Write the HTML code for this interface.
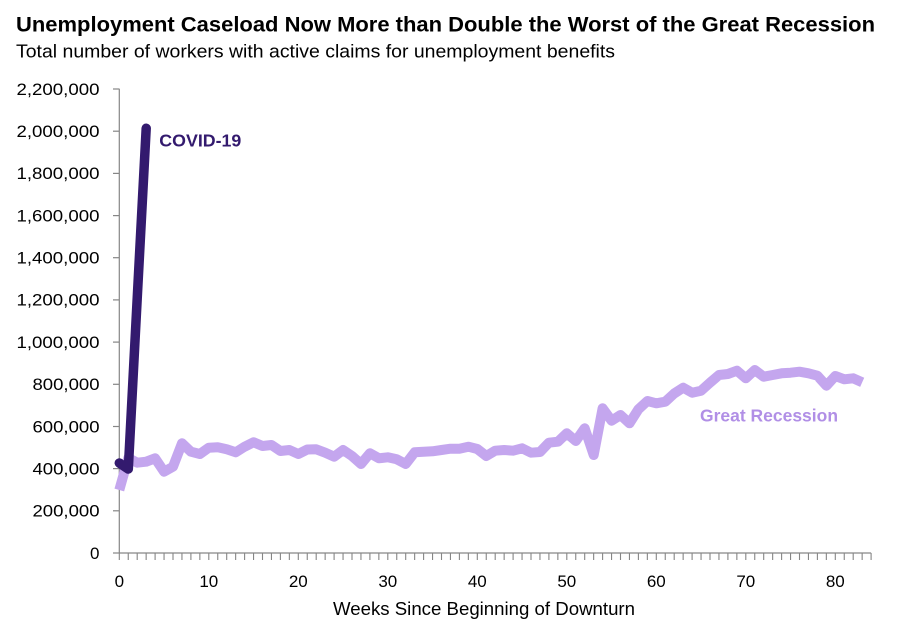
<!DOCTYPE html>
<html>
<head>
<meta charset="utf-8">
<style>
  html, body { margin: 0; padding: 0; background: #ffffff; }
  svg { display: block; }
  text { font-family: "Liberation Sans", "DejaVu Sans", sans-serif; }
</style>
</head>
<body>
<svg width="900" height="630" viewBox="0 0 900 630" xmlns="http://www.w3.org/2000/svg">
  <rect x="0" y="0" width="900" height="630" fill="#ffffff"/>

  <!-- Title & subtitle -->
  <text x="16" y="31.7" font-size="21" font-weight="bold" fill="#000" textLength="859" lengthAdjust="spacingAndGlyphs">Unemployment Caseload Now More than Double the Worst of the Great Recession</text>
  <text x="16" y="57.3" font-size="18" fill="#000" textLength="599" lengthAdjust="spacingAndGlyphs">Total number of workers with active claims for unemployment benefits</text>

  <!-- Axes -->
  <g stroke="#868686" stroke-width="1.2" fill="none">
    <line x1="119.3" y1="88.8" x2="119.3" y2="553"/>
    <line x1="119.3" y1="553" x2="871.1" y2="553"/>
  </g>

  <!-- Y ticks -->
  <g stroke="#868686" stroke-width="1.2">
    <line x1="113" y1="553" x2="119.3" y2="553"/>
    <line x1="113" y1="510.8" x2="119.3" y2="510.8"/>
    <line x1="113" y1="468.6" x2="119.3" y2="468.6"/>
    <line x1="113" y1="426.5" x2="119.3" y2="426.5"/>
    <line x1="113" y1="384.3" x2="119.3" y2="384.3"/>
    <line x1="113" y1="342.1" x2="119.3" y2="342.1"/>
    <line x1="113" y1="299.9" x2="119.3" y2="299.9"/>
    <line x1="113" y1="257.7" x2="119.3" y2="257.7"/>
    <line x1="113" y1="215.6" x2="119.3" y2="215.6"/>
    <line x1="113" y1="173.4" x2="119.3" y2="173.4"/>
    <line x1="113" y1="131.2" x2="119.3" y2="131.2"/>
    <line x1="113" y1="89.0" x2="119.3" y2="89.0"/>
  </g>

  <!-- Y labels -->
  <g font-size="17" fill="#000" text-anchor="end">
    <text x="99.5" y="558.8">0</text>
    <text x="99.5" y="516.6" textLength="67" lengthAdjust="spacingAndGlyphs">200,000</text>
    <text x="99.5" y="474.4" textLength="67" lengthAdjust="spacingAndGlyphs">400,000</text>
    <text x="99.5" y="432.3" textLength="67" lengthAdjust="spacingAndGlyphs">600,000</text>
    <text x="99.5" y="390.1" textLength="67" lengthAdjust="spacingAndGlyphs">800,000</text>
    <text x="99.5" y="347.9" textLength="83" lengthAdjust="spacingAndGlyphs">1,000,000</text>
    <text x="99.5" y="305.7" textLength="83" lengthAdjust="spacingAndGlyphs">1,200,000</text>
    <text x="99.5" y="263.5" textLength="83" lengthAdjust="spacingAndGlyphs">1,400,000</text>
    <text x="99.5" y="221.4" textLength="83" lengthAdjust="spacingAndGlyphs">1,600,000</text>
    <text x="99.5" y="179.2" textLength="83" lengthAdjust="spacingAndGlyphs">1,800,000</text>
    <text x="99.5" y="137.0" textLength="83" lengthAdjust="spacingAndGlyphs">2,000,000</text>
    <text x="99.5" y="94.8" textLength="83" lengthAdjust="spacingAndGlyphs">2,200,000</text>
  </g>

  <!-- X ticks (every week 0..84) -->
  <g id="xt" stroke="#868686" stroke-width="1.1"></g>

  <!-- X labels -->
  <g font-size="17" fill="#000" text-anchor="middle">
    <text x="119.3" y="587">0</text>
    <text x="208.8" y="587">10</text>
    <text x="298.3" y="587">20</text>
    <text x="387.8" y="587">30</text>
    <text x="477.3" y="587">40</text>
    <text x="566.8" y="587">50</text>
    <text x="656.3" y="587">60</text>
    <text x="745.8" y="587">70</text>
    <text x="835.3" y="587">80</text>
  </g>
  <text x="333" y="615" font-size="18" fill="#000" textLength="302" lengthAdjust="spacingAndGlyphs">Weeks Since Beginning of Downturn</text>

  <!-- Great Recession series -->
  <polyline fill="none" stroke="#c4a6ee" stroke-width="10" stroke-linejoin="round" stroke-linecap="butt"
    points="119.3,490 128.3,458 137.2,462.7 146.2,461.7 155.1,458.3 164.1,471.7 173.0,466.7 182.0,443.3 190.9,451.7 199.9,454 208.8,447.7 217.8,447.3 226.7,449.3 235.7,452.3 244.6,446.7 253.6,442.3 262.5,446 271.5,445 280.4,451 289.4,450 298.3,454 307.3,449.5 316.2,449.3 325.2,452.7 334.1,456.7 343.1,450 352.0,456 361.0,464 369.9,453.3 378.9,458.3 387.8,457.3 396.8,459.3 405.7,464 414.7,452.3 423.6,451.7 432.6,451.3 441.5,450 450.5,448.7 459.4,448.7 468.4,446.7 477.3,449 486.3,456 495.2,450.7 504.2,450 513.1,450.7 522.1,448.3 531.0,452.7 540.0,452 548.9,442.7 557.9,441.7 566.8,433.3 575.8,441 584.7,428.3 593.7,455 602.6,408.3 611.6,420.7 620.5,415 629.5,423.3 638.4,409.3 647.4,401 656.3,403.3 665.3,401.7 674.2,393.5 683.2,387.7 692.1,392.7 701.1,390.7 710.0,382.7 719.0,375 727.9,374 736.9,370.7 745.8,378.3 754.8,370 763.7,376.7 772.7,375 781.6,373.3 790.6,372.7 799.5,371.7 808.5,373.3 817.4,375.7 826.4,385.7 835.3,376 844.3,379.3 853.2,378.3 862.2,382.3"/>

  <!-- COVID-19 series -->
  <polyline fill="none" stroke="#331a6e" stroke-width="9.5" stroke-linejoin="round" stroke-linecap="round"
    points="119.3,463 128.3,469 137.2,298.6 146.2,128.3"/>

  <!-- Series labels -->
  <text x="159.3" y="146.7" font-size="17.5" font-weight="bold" fill="#331a6e" textLength="82" lengthAdjust="spacingAndGlyphs">COVID-19</text>
  <text x="700" y="421.7" font-size="17.5" font-weight="bold" fill="#b18fe6" textLength="138" lengthAdjust="spacingAndGlyphs">Great Recession</text>

  <script>
    (function(){
      var g = document.getElementById('xt');
      var ns = 'http://www.w3.org/2000/svg';
      for (var i = 0; i <= 84; i++) {
        var x = 119.3 + 8.95 * i;
        var l = document.createElementNS(ns, 'line');
        l.setAttribute('x1', x); l.setAttribute('x2', x);
        l.setAttribute('y1', 553); l.setAttribute('y2', 560);
        g.appendChild(l);
      }
    })();
  </script>
</svg>
</body>
</html>
